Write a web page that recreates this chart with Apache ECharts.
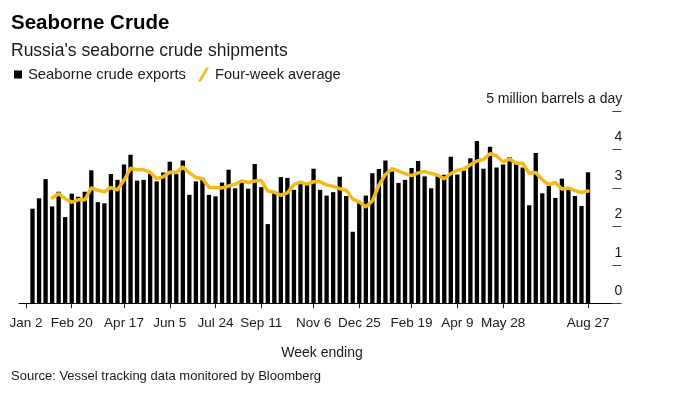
<!DOCTYPE html>
<html>
<head>
<meta charset="utf-8">
<script src="https://cdn.jsdelivr.net/npm/echarts@6/dist/echarts.min.js"></script>
<style>
    html, body { margin: 0; padding: 0; background: #fff; }
    #chart { width: 695px; height: 399px; }
</style>
</head>
<body>
<div id="chart"></div>
<script>
// weekly categories, week ending Sunday, Jan 2 2022 .. Aug 27 2023
var startWeek = '2022-01-02';
var weekCount = 87;
var tickLabels = ['Jan 2', 'Feb 20', 'Apr 17', 'Jun 5', 'Jul 24', 'Sep 11', 'Nov 6',
    'Dec 25', 'Feb 19', 'Apr 9', 'May 28', 'Aug 27'];

// million barrels a day (no bar for Jan 2)
var exports = [null,
    2.46, 2.73, 3.23, 2.52, 2.90, 2.24, 2.85, 2.77, 2.90, 3.46,
    2.63, 2.60, 3.36, 3.21, 3.61, 3.86, 3.19, 3.21, 3.37, 3.17,
    3.40, 3.68, 3.36, 3.71, 2.82, 3.17, 3.26, 2.82, 2.78, 3.14,
    3.47, 2.99, 3.13, 2.98, 3.62, 3.02, 2.06, 2.86, 3.28, 3.26,
    2.95, 3.10, 3.08, 3.50, 2.95, 2.80, 2.89, 3.29, 2.79, 1.86,
    2.60, 2.80, 3.38, 3.49, 3.71, 3.43, 3.13, 3.21, 3.52, 3.70,
    3.30, 2.99, 3.32, 3.34, 3.81, 3.35, 3.45, 3.77, 4.22, 3.50,
    4.07, 3.53, 3.61, 3.80, 3.62, 3.53, 2.55, 3.91, 2.86, 3.05,
    2.74, 3.24, 2.95, 2.79, 2.53, 3.41];

var fourWeekAvg = [null, null, null, null,
    2.74, 2.85, 2.72, 2.63, 2.69, 2.69, 3.00, 2.94, 2.90, 3.01,
    2.95, 3.20, 3.51, 3.47, 3.47, 3.41, 3.24, 3.29, 3.41, 3.40,
    3.54, 3.39, 3.27, 3.24, 3.02, 3.01, 3.00, 3.05, 3.10, 3.18,
    3.14, 3.18, 3.19, 2.92, 2.89, 2.81, 2.87, 3.09, 3.15, 3.10,
    3.16, 3.16, 3.08, 3.04, 2.98, 2.94, 2.71, 2.64, 2.51, 2.66,
    3.07, 3.35, 3.50, 3.44, 3.37, 3.32, 3.39, 3.43, 3.38, 3.33,
    3.24, 3.37, 3.46, 3.49, 3.60, 3.70, 3.74, 3.89, 3.83, 3.68,
    3.75, 3.64, 3.64, 3.38, 3.40, 3.21, 3.09, 3.14, 2.97, 3.00,
    2.93, 2.88, 2.92];

var monthNames = ['Jan', 'Feb', 'Mar', 'Apr', 'May', 'Jun', 'Jul', 'Aug', 'Sep', 'Oct', 'Nov', 'Dec'];
var weeks = [];
var d = new Date(startWeek + 'T00:00:00Z');
for (var i = 0; i < weekCount; i++) {
    weeks.push(monthNames[d.getUTCMonth()] + ' ' + d.getUTCDate());
    d = new Date(d.getTime() + 7 * 24 * 3600 * 1000);
}

function isTick(index, value) {
    return tickLabels.indexOf(value) > -1;
}

var font = '"Liberation Sans", Arial, sans-serif';
var myChart = echarts.init(document.getElementById('chart'), null, {renderer: 'canvas'});

var option = {
    animation: false,
    backgroundColor: '#fff',
    textStyle: {fontFamily: font},
    title: [
        {text: 'Seaborne Crude', left: 6, top: 8,
            textStyle: {fontFamily: font, fontSize: 20.5, fontWeight: 'bold', color: '#000'}},
        {text: "Russia's seaborne crude shipments", left: 6, top: 37,
            textStyle: {fontFamily: font, fontSize: 17.5, fontWeight: 'normal', color: '#1a1a1a'}},
        {text: 'Week ending', left: 317, top: 341, textAlign: 'center',
            textStyle: {fontFamily: font, fontSize: 14, fontWeight: 'normal', color: '#1a1a1a'}},
        {text: 'Source: Vessel tracking data monitored by Bloomberg', left: 6, top: 365,
            textStyle: {fontFamily: font, fontSize: 13, fontWeight: 'normal', color: '#1a1a1a'}}
    ],
    legend: [
        {
            left: 9, top: 62, selectedMode: false,
            itemWidth: 8, itemHeight: 8,
            data: [{name: 'Seaborne crude exports', icon: 'rect'}],
            textStyle: {fontFamily: font, fontSize: 14.8, color: '#1a1a1a', padding: [0, 0, 0, 1]}
        },
        {
            left: 193, top: 62, selectedMode: false,
            itemWidth: 11, itemHeight: 14,
            data: [{name: 'Four-week average', icon: 'path://M0,14 L3,14 L11,0 L8,0 Z'}],
            textStyle: {fontFamily: font, fontSize: 14.6, color: '#1a1a1a', padding: [0, 0, 0, 1]}
        }
    ],
    grid: [
        {left: 22.7, right: 103.7, top: 111, bottom: 95.7},
        {left: 19, right: 74, top: 111, bottom: 95.7}
    ],
    xAxis: [
        {
            type: 'category',
            gridIndex: 0,
            data: weeks,
            boundaryGap: true,
            axisLine: {show: false},
            axisTick: {show: true, length: 5, alignWithLabel: true, interval: isTick,
                lineStyle: {color: '#222', width: 1}},
            axisLabel: {interval: isTick, margin: 13, fontFamily: font, fontSize: 13.5, color: '#1a1a1a'},
            splitLine: {show: false}
        },
        {
            // baseline that runs under the value scale too
            type: 'value',
            gridIndex: 1,
            min: 0, max: 1,
            axisLine: {show: true, onZero: false, lineStyle: {color: '#000', width: 1}},
            axisTick: {show: false},
            axisLabel: {show: false},
            splitLine: {show: false}
        }
    ],
    yAxis: [
        {
            type: 'value',
            gridIndex: 0,
            position: 'right',
            offset: 21,
            min: 0, max: 5, interval: 1,
            axisLine: {show: false},
            axisTick: {show: true, length: 9, lineStyle: {color: '#444', width: 1}},
            splitLine: {show: false},
            axisLabel: {
                margin: 10,
                align: 'right',
                verticalAlign: 'bottom',
                lineHeight: 14,
                padding: [0, 0, 5, 0],
                fontFamily: font,
                fontSize: 14,
                color: '#1a1a1a',
                formatter: function (v) {
                    return v === 5 ? '5 million barrels a day' : String(v);
                }
            }
        },
        {type: 'value', gridIndex: 1, show: false, min: 0, max: 1}
    ],
    series: [
        {
            name: 'Seaborne crude exports',
            type: 'bar',
            xAxisIndex: 0, yAxisIndex: 0,
            data: exports,
            barWidth: '66%',
            itemStyle: {color: '#000'}
        },
        {
            name: 'Four-week average',
            type: 'line',
            xAxisIndex: 0, yAxisIndex: 0,
            data: fourWeekAvg,
            symbol: 'none',
            connectNulls: false,
            itemStyle: {color: '#f4b91a'},
            lineStyle: {color: '#f4b91a', width: 3.5, join: 'round', cap: 'round'},
            z: 5
        }
    ]
};

myChart.setOption(option);

window.onresize = function () {
    setTimeout(function () {
        myChart.resize();
    }, 50);
};
</script>
</body>
</html>
